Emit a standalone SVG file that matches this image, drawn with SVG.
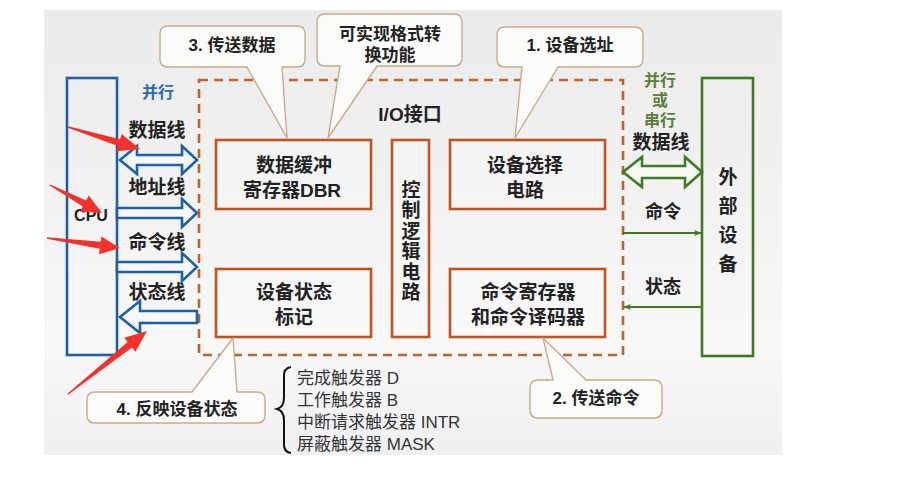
<svg xmlns="http://www.w3.org/2000/svg" width="920" height="492" viewBox="0 0 920 492">
<defs>
<linearGradient id="bg" x1="0" y1="0" x2="0" y2="1">
<stop offset="0" stop-color="#ebebeb"/>
<stop offset="0.75" stop-color="#f8f8f8"/>
<stop offset="1" stop-color="#f0f0f0"/>
</linearGradient>
<marker id="ga" viewBox="0 0 10 10" refX="9" refY="5" markerWidth="5" markerHeight="5" orient="auto" markerUnits="userSpaceOnUse">
<path d="M0,0 L10,5 L0,10 L2,5 Z" fill="#3f7a22"/>
</marker>
<marker id="gm" viewBox="0 0 10 10" refX="9" refY="5" markerWidth="8" markerHeight="8" orient="auto" markerUnits="userSpaceOnUse">
<path d="M0,1 L10,5 L0,9 L2.5,5 Z" fill="#3f7a22"/>
</marker>
</defs>
<style>
text{font-family:"Liberation Sans","Noto Sans CJK SC",sans-serif;fill:#222;dominant-baseline:central;text-anchor:middle}
.b{font-weight:bold}
.box{fill:#fafafa;fill-opacity:0.4;stroke:#c0541e;stroke-width:2.6}
.call{fill:#fbfbf9;stroke:#c9aa8c;stroke-width:1.4;stroke-linejoin:round}
.blue{fill:#f6f8fa;stroke:#1f5fa6;stroke-width:2.6;stroke-linejoin:miter}
.green{fill:#f6f8f4;stroke:#3f7a22;stroke-width:2.6}
.red{fill:#f2322b}
.t19{font-size:19px}
.t18{font-size:18px}
.t17{font-size:17px}
.t16{font-size:16px}
.list{font-size:17px;fill:#333;text-anchor:start}
</style>
<rect x="44" y="10" width="738" height="445" fill="url(#bg)"/>

<g id="io-interface">
<rect x="199" y="80" width="424" height="275" fill="none" stroke="#c0622a" stroke-width="2.6" stroke-dasharray="9,6"/>
<text class="b t19" x="410" y="114">I/O接口</text>
</g>

<g id="cpu">
<rect x="67" y="78" width="50" height="277" fill="none" stroke="#1f5fa6" stroke-width="2.6"/>
<text class="b t16" x="91" y="215">CPU</text>
</g>

<g id="dbr">
<rect class="box" x="216" y="140" width="155" height="69"/>
<text class="b t19" x="294" y="165">数据缓冲</text>
<text class="b t19" x="292" y="190">寄存器DBR</text>
</g>
<g id="control-logic">
<rect class="box" x="392" y="140" width="37" height="197"/>
<text class="b t19" x="411" y="190">控</text>
<text class="b t19" x="411" y="210.5">制</text>
<text class="b t19" x="411" y="231">逻</text>
<text class="b t19" x="411" y="251.5">辑</text>
<text class="b t19" x="411" y="272">电</text>
<text class="b t19" x="411" y="292.5">路</text>
</g>
<g id="device-select">
<rect class="box" x="450" y="140" width="155" height="69"/>
<text class="b t19" x="525" y="165">设备选择</text>
<text class="b t19" x="525" y="190">电路</text>
</g>
<g id="device-status">
<rect class="box" x="216" y="269" width="155" height="68"/>
<text class="b t19" x="294" y="292">设备状态</text>
<text class="b t19" x="294" y="317">标记</text>
</g>
<g id="command-register">
<rect class="box" x="450" y="269" width="155" height="68"/>
<text class="b t19" x="528" y="292">命令寄存器</text>
<text class="b t19" x="528" y="317">和命令译码器</text>
</g>

<g id="external-device">
<rect x="702" y="78" width="51" height="278" fill="none" stroke="#3f7a22" stroke-width="2.6"/>
<text class="b t19" x="728" y="177">外</text>
<text class="b t19" x="728" y="206">部</text>
<text class="b t19" x="728" y="235">设</text>
<text class="b t19" x="728" y="264">备</text>
</g>

<g id="callout-3">
<path class="call" d="M168,26 H297 Q305,26 305,34 V59 Q305,67 297,67 H282 L287,138 L247,67 H168 Q160,67 160,59 V34 Q160,26 168,26 Z"/>
<text class="b t17" x="232" y="45">3. 传送数据</text>
</g>
<g id="callout-format">
<path class="call" d="M325,14 H454 Q462,14 462,22 V58 Q462,66 454,66 H377 L328,138 L340,66 H325 Q317,66 317,58 V22 Q317,14 325,14 Z"/>
<text class="b t17" x="390" y="34">可实现格式转</text>
<text class="b t17" x="390" y="55">换功能</text>
</g>
<g id="callout-1">
<path class="call" d="M505,27 H635 Q643,27 643,35 V59 Q643,67 635,67 H558 L515,138 L522,67 H505 Q497,67 497,59 V35 Q497,27 505,27 Z"/>
<text class="b t17" x="570" y="45">1. 设备选址</text>
</g>
<g id="callout-4">
<path class="call" d="M95,392 H192 L233,338 L237,392 H257 Q265,392 265,400 V415 Q265,423 257,423 H95 Q87,423 87,415 V400 Q87,392 95,392 Z"/>
<text class="b t17" x="177" y="409">4. 反映设备状态</text>
</g>
<g id="callout-2">
<path class="call" d="M538,380 H553 L543,338 L586,380 H654 Q662,380 662,388 V410 Q662,418 654,418 H538 Q530,418 530,410 V388 Q530,380 538,380 Z"/>
<text class="b t17" x="596" y="398">2. 传送命令</text>
</g>

<g id="flags">
<path d="M291,367 Q283,368 284,378 L284,398 Q284,407 277,409 Q284,411 284,420 L284,442 Q283,452 291,453" fill="none" stroke="#111" stroke-width="2"/>
<text class="list" x="297" y="378">完成触发器 D</text>
<text class="list" x="297" y="400">工作触发器 B</text>
<text class="list" x="297" y="422">中断请求触发器 INTR</text>
<text class="list" x="297" y="444">屏蔽触发器 MASK</text>
</g>

<g id="connectors">
<polygon class="blue" points="120,160 137,146 137,155 182,155 182,146 197,160 182,174 182,165 137,165 137,174"/>
<polygon class="blue" points="117,208 182,208 182,199 197,213 182,227 182,218 117,218"/>
<polygon class="blue" points="117,262 182,262 182,253 197,267 182,281 182,272 117,272"/>
<polygon class="blue" points="120,317 140,301 140,311 197,311 197,323 140,323 140,333"/>
<polygon class="green" points="623,172 642,157 642,166 685,166 685,157 702,172 685,187 685,178 642,178 642,187"/>
<line x1="623" y1="233" x2="701" y2="233" stroke="#3f7a22" stroke-width="2" marker-end="url(#gm)"/>
<line x1="702" y1="307" x2="624" y2="307" stroke="#3f7a22" stroke-width="2" marker-end="url(#gm)"/>
</g>

<g id="labels">
<text class="b t16" x="158" y="92" style="fill:#2a6aad">并行</text>
<text class="t19" x="157" y="130" style="font-weight:600">数据线</text>
<text class="t19" x="157" y="187" style="font-weight:600">地址线</text>
<text class="t19" x="157" y="242" style="font-weight:600">命令线</text>
<text class="t19" x="157" y="292" style="font-weight:600">状态线</text>
<text class="b t16" x="660" y="80" style="fill:#5b7d3c">并行</text>
<text class="b t16" x="660" y="100" style="fill:#5b7d3c">或</text>
<text class="b t16" x="660" y="120" style="fill:#5b7d3c">串行</text>
<text class="b t19" x="661" y="142">数据线</text>
<text class="b t18" x="663" y="212">命令</text>
<text class="b t18" x="663" y="287">状态</text>
</g>

<g id="annotations">
<polygon class="red" points="68.2,126.3 120,139.3 121.6,134 140,149 116.4,151.2 118,145.9 67.8,127.7"/>
<polygon class="red" points="50.3,184.4 86.1,200.4 88.7,195.6 102,213 80.1,211.4 82.7,206.6 49.7,185.6"/>
<polygon class="red" points="47.1,237.3 100.7,241.8 101.4,236.4 120,248 99,254.2 99.7,248.8 46.9,238.7"/>
<polygon class="red" points="67.6,393.5 127.6,342 124.2,337.7 147,331 135.4,351.7 132,347.4 68.4,394.5"/>
</g>
</svg>
